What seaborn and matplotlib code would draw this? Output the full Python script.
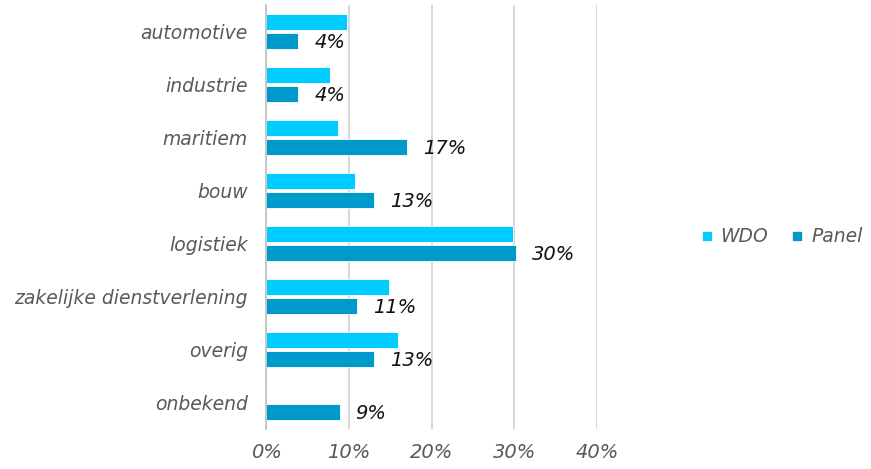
import matplotlib
matplotlib.use("Agg")
import matplotlib.pyplot as plt
import seaborn as sns
import pandas as pd
import numpy as np
from matplotlib.ticker import PercentFormatter, FixedLocator
from matplotlib.lines import Line2D

categories = ["automotive", "industrie", "maritiem", "bouw", "logistiek",
              "zakelijke dienstverlening", "overig", "onbekend"]
wdo = [9.8, 7.7, 8.7, 10.8, 29.8, 14.9, 15.9, 0.0]
panel = [3.9, 3.9, 17.0, 13.0, 30.2, 11.0, 13.0, 8.9]
panel_labels = ["4%", "4%", "17%", "13%", "30%", "11%", "13%", "9%"]
series = ["WDO", "Panel"]
colors = ["#00CCFF", "#0099CC"]

df = pd.DataFrame({
    "categorie": categories * 2,
    "waarde": wdo + panel,
    "reeks": ["WDO"] * len(categories) + ["Panel"] * len(categories),
})

sns.set_style("white")
plt.rcParams["font.family"] = ["DejaVu Sans"]

fig = plt.figure(figsize=(8.71, 4.69), dpi=100)
ax = fig.add_axes([266 / 871, (469 - 429) / 469, (597 - 266) / 871, (429 - 5) / 469])

sns.barplot(data=df, y="categorie", x="waarde", hue="reeks", order=categories,
            hue_order=series, palette=colors, saturation=1, orient="h", width=0.75, gap=0.2,
            legend=False, ax=ax, edgecolor="white", linewidth=0.6)

# value labels on Panel bars
panel_container = ax.containers[1]
for bar, lab in zip(panel_container, panel_labels):
    w = bar.get_width()
    yc = bar.get_y() + bar.get_height() / 2
    ax.annotate(lab, xy=(w, yc), xytext=(11.5, -1), textcoords="offset points",
                ha="left", va="center", fontsize=14, style="italic", color="#111111")

ax.set_xlim(0, 40)
ax.set_ylim(len(categories) - 0.5, -0.5)
ax.xaxis.set_major_locator(FixedLocator([0, 10, 20, 30, 40]))
ax.xaxis.set_major_formatter(PercentFormatter(decimals=0))
ax.grid(axis="x", color="#D4D4D4", linewidth=1.3)
ax.set_axisbelow(True)
for s in ["top", "right", "bottom"]:
    ax.spines[s].set_visible(False)
ax.spines["left"].set_color("#BFBFBF")
ax.spines["left"].set_linewidth(1.2)
ax.set_xlabel("")
ax.set_ylabel("")

ax.tick_params(axis="x", length=0, labelsize=14, labelcolor="#595959", pad=10)
ax.tick_params(axis="y", which="major", length=0, labelsize=13.5, labelcolor="#595959", pad=13)
ax.set_yticks(np.arange(-0.5, len(categories), 1.0), minor=True)
ax.tick_params(axis="y", which="minor", length=4, color="#BFBFBF", width=1.2)
for t in ax.get_xticklabels() + ax.get_yticklabels():
    t.set_fontstyle("italic")

handles = [Line2D([0], [0], marker="s", linestyle="", markersize=6,
                  markerfacecolor=c, markeredgecolor=c) for c in colors]
leg = fig.legend(handles, series, loc="center left", bbox_to_anchor=(699 / 871, 1 - 237 / 469),
                 ncol=2, frameon=False, handlelength=0.8, handletextpad=0.35, columnspacing=1.15,
                 borderpad=0, borderaxespad=0, prop={"size": 13.5, "style": "italic"})
for t in leg.get_texts():
    t.set_color("#595959")

fig.savefig("out.png", dpi=100)
